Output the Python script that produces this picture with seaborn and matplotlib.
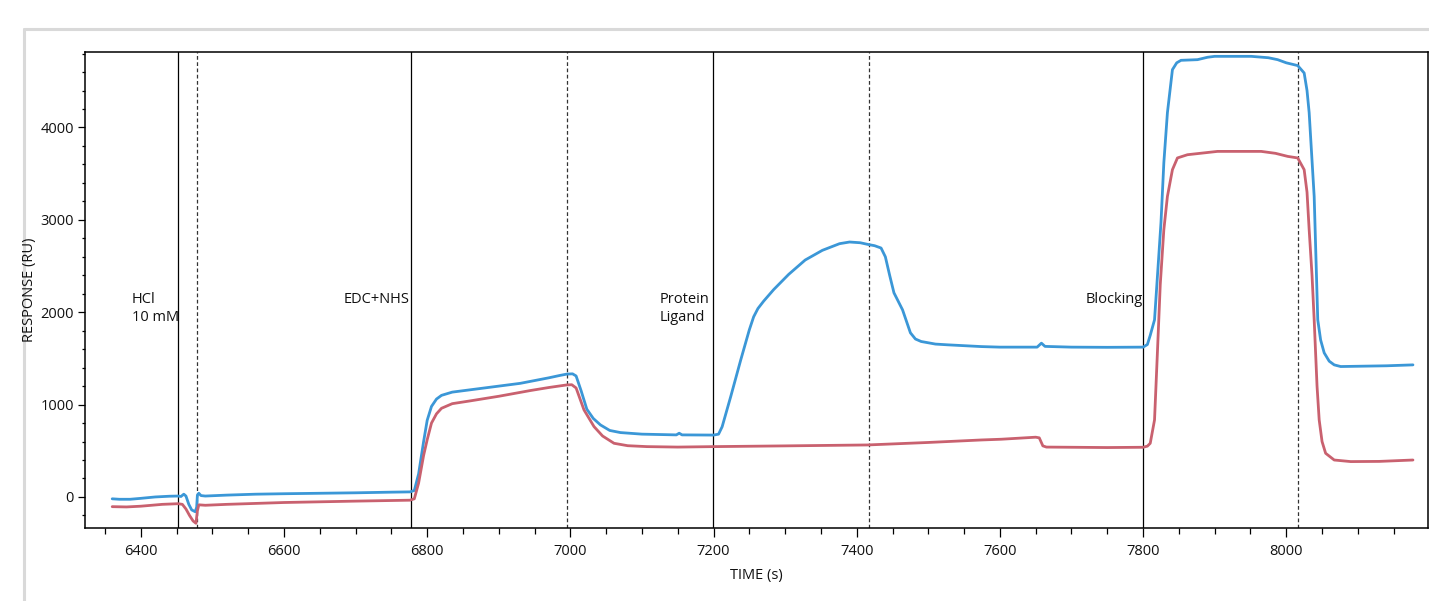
import matplotlib
matplotlib.use("Agg")
import matplotlib.pyplot as plt
from matplotlib.lines import Line2D
from matplotlib.ticker import MultipleLocator
import seaborn as sns
import pandas as pd

# ---- data ----
blue_t = [6360, 6370, 6385, 6400, 6420, 6440, 6452, 6456, 6460, 6463, 6467, 6471, 6476, 6478,
          6479, 6481, 6484, 6490, 6520, 6560, 6600, 6650, 6700, 6750, 6776, 6782, 6788, 6795,
          6800, 6806, 6813, 6820, 6835, 6860, 6900, 6930, 6950, 6970, 6985, 6995, 7003, 7008,
          7015, 7023, 7032, 7042, 7055, 7070, 7100, 7148, 7152, 7156, 7200, 7207, 7212, 7224,
          7238, 7250, 7256, 7262, 7270, 7284, 7305, 7328, 7352, 7376, 7390, 7405, 7415, 7425,
          7434, 7440, 7446, 7452, 7464, 7475, 7482, 7490, 7510, 7527, 7574, 7600, 7652, 7658,
          7663, 7700, 7750, 7800, 7806, 7810, 7816, 7821, 7825, 7829, 7834, 7841, 7847, 7853,
          7876, 7890, 7900, 7951, 7975, 7988, 8000, 8016, 8025, 8029, 8032, 8039, 8044, 8048,
          8053, 8060, 8067, 8076, 8100, 8140, 8177]
blue_v = [-20, -25, -25, -15, 0, 8, 10, 5, 30, 10, -80, -140, -160, -110,
          20, 40, 15, 10, 20, 30, 35, 40, 45, 52, 55, 70, 250, 600,
          830, 980, 1060, 1100, 1135, 1160, 1200, 1230, 1260, 1290, 1315, 1330, 1333, 1310,
          1150, 950, 850, 780, 720, 697, 680, 672, 690, 672, 670, 680, 760, 1087,
          1484, 1810, 1950, 2040, 2120, 2245, 2410, 2565, 2670, 2742, 2760, 2752, 2735, 2720,
          2695, 2600, 2400, 2210, 2026, 1777, 1710, 1683, 1655, 1647, 1628, 1622, 1622, 1665,
          1630, 1622, 1620, 1622, 1650, 1750, 1918, 2500, 2970, 3618, 4160, 4626, 4700, 4727,
          4734, 4760, 4770, 4770, 4755, 4734, 4700, 4670, 4590, 4400, 4160, 3254, 1918, 1700,
          1560, 1470, 1430, 1412, 1415, 1420, 1430]

red_t = [6360, 6380, 6400, 6430, 6452, 6458, 6463, 6468, 6473, 6477, 6479, 6481, 6490, 6520,
         6600, 6700, 6776, 6782, 6788, 6795, 6800, 6806, 6813, 6820, 6835, 6860, 6900, 6944,
         6970, 6995, 7002, 7008, 7019, 7033, 7045, 7061, 7080, 7107, 7150, 7200, 7300, 7415,
         7500, 7574, 7602, 7650, 7655, 7660, 7665, 7700, 7750, 7800, 7806, 7810, 7816, 7820,
         7824, 7829, 7834, 7841, 7848, 7862, 7904, 7965, 7985, 8002, 8016, 8025, 8029, 8032,
         8036, 8039, 8043, 8046, 8050, 8055, 8067, 8090, 8130, 8177]
red_v = [-105, -108, -100, -80, -73, -80, -130, -200, -260, -285, -150, -85, -90, -80,
         -60, -45, -35, -20, 150, 450, 620, 800, 900, 960, 1010, 1040, 1090, 1152,
         1185, 1213, 1215, 1180, 943, 762, 660, 581, 555, 545, 540, 545, 553, 563,
         590, 617, 625, 647, 640, 553, 540, 538, 535, 538, 550, 581, 834, 1560,
         2300, 2893, 3254, 3543, 3670, 3705, 3741, 3741, 3720, 3687, 3670, 3543, 3300, 2893,
         2400, 1918, 1200, 834, 600, 473, 400, 383, 385, 400]

solid_lines = [6452, 6777, 7199, 7800]
dashed_lines = [6478, 6995, 7417, 8017]

labels = ["HCl\n10 mM", "EDC+NHS", "Protein\nLigand", "Blocking"]
label_x = [6387, 6775, 7124, 7720]
label_ha = ["left", "right", "left", "left"]

xticks_major = [6400, 6600, 6800, 7000, 7200, 7400, 7600, 7800, 8000]
yticks_major = [0, 1000, 2000, 3000, 4000]

# ---- styling ----
sns.set_style("white")
plt.rcParams['font.family'] = ['Open Sans', 'DejaVu Sans']
plt.rcParams['text.color'] = '#111111'
plt.rcParams['axes.labelcolor'] = '#111111'
plt.rcParams['xtick.color'] = '#111111'
plt.rcParams['ytick.color'] = '#111111'

df = pd.concat([
    pd.DataFrame({"t": blue_t, "v": blue_v, "s": "blue"}),
    pd.DataFrame({"t": red_t, "v": red_v, "s": "red"}),
])

fig = plt.figure(figsize=(14.29, 6.01), dpi=100)
ax = fig.add_axes([85 / 1429, 1 - 528 / 601, (1428 - 85) / 1429, (528 - 52) / 601])

sns.lineplot(data=df, x="t", y="v", hue="s", palette={"blue": "#3b97d7", "red": "#c9616f"},
             estimator=None, sort=False, linewidth=2.0, legend=False, ax=ax, zorder=3)

for xv in solid_lines:
    ax.axvline(xv, color="black", lw=0.9, zorder=2)
for xv in dashed_lines:
    ax.axvline(xv, color="#333333", lw=0.9, ls=(0, (3, 2)), zorder=2)

for txt, xv, ha in zip(labels, label_x, label_ha):
    ax.text(xv, 2215, txt, ha=ha, va="top", fontsize=10.5, color="#111111", linespacing=1.25)

ax.set_xlim(6322, 8198)
ax.set_ylim(-336, 4817)
ax.set_xticks(xticks_major)
ax.xaxis.set_minor_locator(MultipleLocator(50))
ax.set_yticks(yticks_major)
ax.yaxis.set_minor_locator(MultipleLocator(200))
ax.tick_params(axis="x", which="major", direction="out", length=6.5, width=0.9,
               color="black", labelsize=10.5, pad=5, bottom=True)
ax.tick_params(axis="x", which="minor", direction="out", length=4, width=0.9,
               color="black", bottom=True)
ax.tick_params(axis="y", which="major", direction="out", length=5, width=0.9,
               color="black", labelsize=10.5, pad=3, left=True)
ax.tick_params(axis="y", which="minor", direction="out", length=2.5, width=0.9,
               color="black", left=True)
for sp in ax.spines.values():
    sp.set_color("black")
    sp.set_linewidth(1.1)
    sp.set_visible(True)

ax.set_xlabel("TIME (s)", fontsize=10.5)
ax.set_ylabel("RESPONSE (RU)", fontsize=10.5)
ax.xaxis.set_label_coords(0.5, -0.085)
ax.yaxis.set_label_coords(-0.036, 0.5)

# light window frame (drawn beneath the axes)
fig.add_artist(Line2D([23.5 / 1429, 1.0], [1 - 29 / 601, 1 - 29 / 601],
                      transform=fig.transFigure, color="#d9d9d9", lw=2.2, zorder=-5))
fig.add_artist(Line2D([23.5 / 1429, 23.5 / 1429], [0, 1 - 29 / 601],
                      transform=fig.transFigure, color="#d9d9d9", lw=2.2, zorder=-5))

fig.savefig("out.png", dpi=100)
